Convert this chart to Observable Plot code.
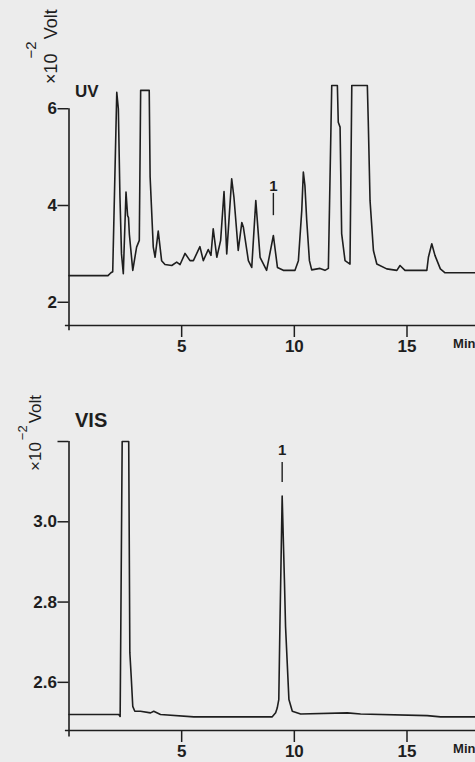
<!DOCTYPE html>
<html>
<head>
<meta charset="utf-8">
<script src="https://cdn.jsdelivr.net/npm/d3@7"></script>
<script src="https://cdn.jsdelivr.net/npm/@observablehq/plot@0.6"></script>
<style>
  html, body { margin: 0; padding: 0; overflow: hidden; background: #ececec; }
  #wrap { position: relative; width: 475px; height: 762px; background: #ececec; }
  .panel { position: absolute; left: 0; }
  .ylab {
    position: absolute; white-space: nowrap; line-height: 1;
    font-family: "Liberation Sans", Arial, sans-serif; color: #1e1e1e;
    transform-origin: 0 0; transform: rotate(-90deg);
  }
  .ylab .sup { position: relative; display: inline-block; }
</style>
</head>
<body>
<div id="wrap">
  <div id="top" class="panel" style="top:0px"></div>
  <div id="bot" class="panel" style="top:380px"></div>
  <div class="ylab" style="left:42px; top:84px; font-size:18px;">×10<span class="sup" style="font-size:15px; top:-21px; margin-left:-5px; margin-right:2px;">−2</span>Volt</div>
  <div class="ylab" style="left:27px; top:471px; font-size:17px;">×10<span class="sup" style="font-size:13px; top:-14px; margin-left:2px; margin-right:2px;">−2</span>Volt</div>
</div>
<script>
const ink = "#1e1e1e";

// Shared time axis (minutes)
const xDomain = [0, 18.04];
const xTicks = [5, 10, 15];
const xUnit = "Min";

// UV panel (×10⁻² Volt)
const uvDomain = [1.52, 6.48];
const uvTicks = [2, 4, 6];
const uvTitle = "UV";
const uvTime = [
  0, 1.73, 1.86, 1.94, 2.12, 2.19, 2.26, 2.33, 2.41, 2.53, 2.60, 2.64, 2.68, 2.83,
  3.00, 3.12, 3.18, 3.56, 3.60, 3.74, 3.82, 3.96, 4.11, 4.26, 4.56, 4.78, 4.93,
  5.15, 5.37, 5.52, 5.81, 5.96, 6.18, 6.30, 6.40, 6.56, 6.73, 6.88, 7.00, 7.22,
  7.32, 7.51, 7.67, 7.74, 7.96, 8.11, 8.29, 8.48, 8.77, 9.07, 9.25, 9.51, 10.03,
  10.18, 10.33, 10.40, 10.47, 10.55, 10.67, 10.77, 11.14, 11.36, 11.51, 11.66,
  11.91, 11.95, 12.03, 12.10, 12.25, 12.47, 12.55, 13.24, 13.28, 13.36, 13.51,
  13.66, 14.10, 14.55, 14.69, 14.91, 15.88, 15.95, 16.10, 16.24, 16.48, 16.69, 18.04
];
const uvVolt = [
  2.55, 2.55, 2.61, 2.63, 6.34, 6.00, 4.20, 3.00, 2.59, 4.28, 3.79, 3.75, 3.40, 2.66,
  3.14, 3.28, 6.38, 6.38, 4.59, 3.14, 2.93, 3.47, 2.86, 2.78, 2.76, 2.83, 2.78,
  3.01, 2.86, 2.86, 3.15, 2.86, 3.09, 2.97, 3.52, 2.93, 3.28, 4.29, 3.00, 4.55,
  4.17, 3.07, 3.65, 3.55, 2.86, 2.72, 4.10, 2.93, 2.66, 3.38, 2.72, 2.66, 2.66,
  2.86, 3.90, 4.69, 4.41, 3.69, 2.86, 2.67, 2.70, 2.66, 2.70, 6.48,
  6.48, 5.72, 5.62, 3.42, 2.86, 2.79, 6.48, 6.48, 5.76, 4.10, 3.07,
  2.79, 2.69, 2.66, 2.76, 2.66, 2.66, 2.93, 3.21, 2.97, 2.69, 2.61, 2.61
];
const uvPeaks = [{name: "1", t: 9.07, label: 4.39, dashTop: 4.25, dashBottom: 3.79}];

// VIS panel (×10⁻² Volt)
const visDomain = [2.48, 3.21];
const visTicks = [2.6, 2.8, 3.0, 3.2];
const visTickLabels = ["2.6", "2.8", "3.0", ""];
const visTitle = "VIS";
const visTime = [
  0, 2.21, 2.27, 2.36, 2.65, 2.70, 2.76, 2.83, 2.92, 3.17, 3.62, 3.76, 4.06, 5.54,
  7.02, 9.02, 9.17, 9.24, 9.31, 9.36, 9.46, 9.56, 9.61, 9.76, 9.91, 10.28, 12.35,
  12.94, 15.90, 16.49, 18.04
];
const visVolt = [
  2.520, 2.520, 2.515, 3.200, 3.200, 2.674, 2.615, 2.540, 2.528, 2.528, 2.524, 2.528, 2.520, 2.514,
  2.514, 2.514, 2.524, 2.536, 2.557, 2.739, 3.064, 2.855, 2.739, 2.557, 2.528, 2.521, 2.524,
  2.521, 2.517, 2.514, 2.514
];
const visPeaks = [{name: "1", t: 9.46, label: 3.178, dashTop: 3.148, dashBottom: 3.098}];

const uvData = uvTime.map((t, i) => ({t, v: uvVolt[i]}));
const visData = visTime.map((t, i) => ({t, v: visVolt[i]}));
const visLabelOf = new Map(visTicks.map((d, i) => [d, visTickLabels[i]]));

const font = "'Liberation Sans', Arial, Helvetica, sans-serif";

function panel({data, yDomain, yTicks, tickFormat, title, titleSize, titleDy, peaks, height, marginTop, marginBottom, yLabelSize}) {
  return Plot.plot({
    width: 475, height, marginLeft: 68.5, marginRight: 0, marginTop, marginBottom,
    x: {domain: xDomain},
    y: {domain: yDomain},
    style: {background: "transparent", fontFamily: font, fontWeight: "bold", color: ink, overflow: "visible"},
    marks: [
      Plot.ruleY([yDomain[0]], {x1: -0.16, x2: xDomain[1], stroke: ink, strokeWidth: 1.6}),
      Plot.ruleX([0], {y1: yDomain[0] - (yDomain[1] - yDomain[0]) * 0.022, y2: yTicks[yTicks.length - 1], stroke: ink, strokeWidth: 1.6}),
      Plot.axisX({ticks: xTicks, tickSize: 12, tickPadding: 2, fontSize: 17, stroke: ink, strokeWidth: 1.5, fill: ink, label: null, tickFormat: d => String(d)}),
      Plot.axisY({ticks: yTicks, tickSize: 11, tickPadding: 1, fontSize: yLabelSize, stroke: ink, strokeWidth: 1.5, fill: ink, label: null, tickFormat}),
      Plot.line(data, {x: "t", y: "v", stroke: ink, strokeWidth: 1.6, strokeLinejoin: "round"}),
      Plot.ruleX(peaks, {x: "t", y1: "dashBottom", y2: "dashTop", stroke: ink, strokeWidth: 1.4}),
      Plot.text(peaks, {x: "t", y: "label", text: "name", fontSize: 15, fill: ink}),
      Plot.text([title], {frameAnchor: "top-left", dx: 6, dy: titleDy, textAnchor: "start", lineAnchor: "middle", fontSize: titleSize, fill: ink}),
      Plot.text([xUnit], {frameAnchor: "bottom-right", dy: 18, textAnchor: "end", lineAnchor: "middle", fontSize: 13, fill: ink})
    ]
  });
}

document.getElementById("top").append(panel({
  data: uvData, yDomain: uvDomain, yTicks: uvTicks, tickFormat: d => String(d),
  title: uvTitle, titleSize: 17, titleDy: 6, peaks: uvPeaks,
  height: 360, marginTop: 85, marginBottom: 35, yLabelSize: 17
}));

document.getElementById("bot").append(panel({
  data: visData, yDomain: visDomain, yTicks: visTicks, tickFormat: d => visLabelOf.get(d),
  title: visTitle, titleSize: 20, titleDy: -17, peaks: visPeaks,
  height: 382, marginTop: 57, marginBottom: 32, yLabelSize: 17
}));
</script>
</body>
</html>
